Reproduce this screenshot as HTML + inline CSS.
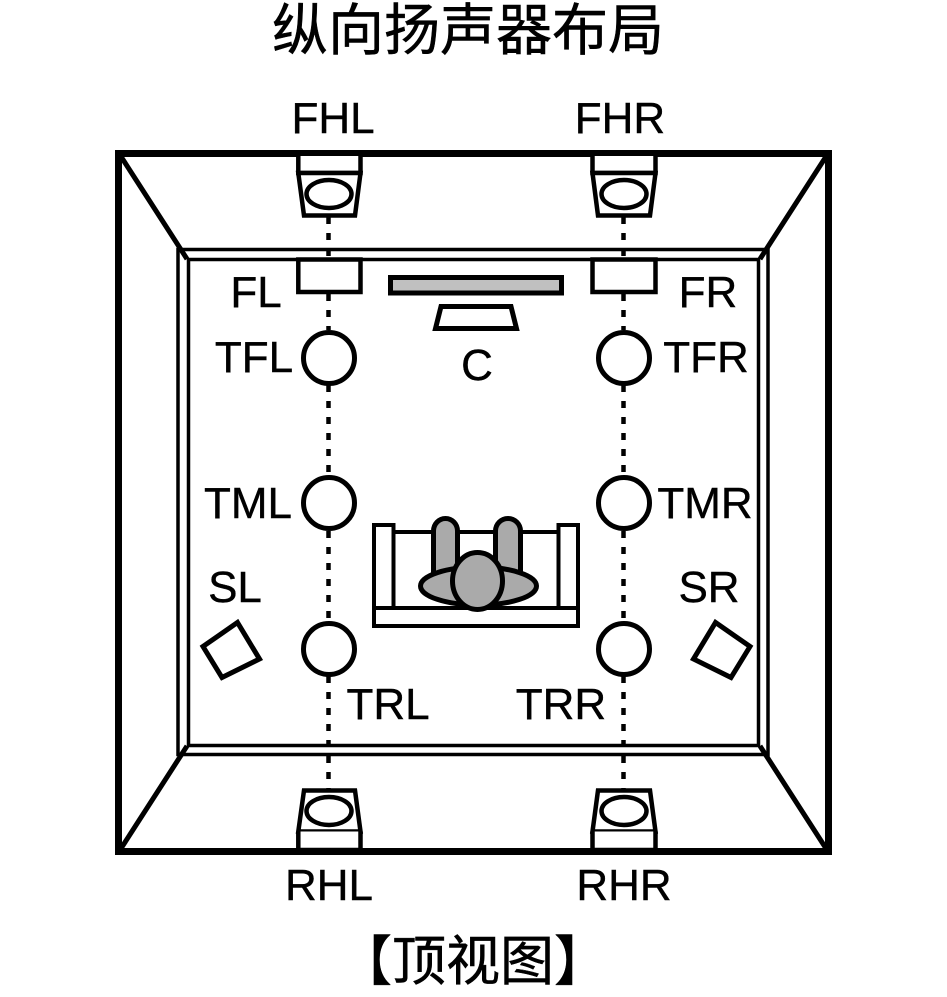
<!DOCTYPE html>
<html><head><meta charset="utf-8">
<style>
html,body{margin:0;padding:0;background:#fff;width:947px;height:997px;overflow:hidden}
svg{display:block}
text{font-family:"Liberation Sans","Noto Sans CJK SC",sans-serif;fill:#000}
.l{font-size:44px;stroke:#000;stroke-width:.4px}
.z{font-family:"Noto Sans CJK SC","WenQuanYi Zen Hei",sans-serif;stroke:#000;stroke-width:.5px}
</style></head><body>
<svg width="947" height="997" viewBox="0 0 947 997" xmlns="http://www.w3.org/2000/svg">
<g fill="none" stroke="#000">
<rect x="118.500" y="153.500" width="710" height="698" stroke-width="7"/>
<path d="M120 155L187 259M827 155L760 259M120 850L187 746M827 850L760 746" stroke-width="5"/>
<rect x="178" y="249.500" width="590" height="505" stroke-width="3.500"/>
<rect x="188.500" y="259.500" width="570" height="486" stroke-width="3.500"/>
<path d="M328.500 217V258M328.500 294V330M328.500 385V476M328.500 531V621M328.500 676V790M623.500 217V258M623.500 294V330M623.500 385V476M623.500 531V621M623.500 676V790" stroke-width="4.500" stroke-dasharray="7 9"/>
</g>
<g fill="#fff" stroke="#000" stroke-width="4.500">
<path d="M298.300 156V173H360.500V156"/><path d="M298.300 173H360.500L355 215.500H304Z"/><ellipse cx="329" cy="194" rx="22.500" ry="14"/>
<path d="M592.500 156V173H655.500V156"/><path d="M592.500 173H655.500L650 215.500H598Z"/><ellipse cx="624" cy="194" rx="22.500" ry="14"/>
<path d="M304 790.500H355L360.500 831.500H298.300Z"/><path d="M298.300 831.500V850H360.500V831.500"/><ellipse cx="329" cy="811" rx="22.500" ry="14"/>
<path d="M598 790.500H650L655.500 831.500H592.500Z"/><path d="M592.500 831.500V850H655.500V831.500"/><ellipse cx="624" cy="811" rx="22.500" ry="14"/>
<rect x="298.300" y="259.500" width="62.200" height="32.500"/>
<rect x="592.500" y="259.500" width="63" height="32.500"/>
<rect x="390.500" y="277.500" width="171" height="15.500" fill="#c0c0c0" stroke-width="5"/>
<path d="M441 306.500H511L516.500 328.500H435.500Z" stroke-width="5"/>
<g stroke-width="5">
<circle cx="329" cy="358" r="25.500"/><circle cx="624" cy="358" r="25.500"/>
<circle cx="329" cy="503" r="25.500"/><circle cx="624" cy="503" r="25.500"/>
<circle cx="329" cy="649" r="25.500"/><circle cx="624" cy="649" r="25.500"/>
<path d="M237.500 622.500L259.500 659L222 677.500L203 646.500Z"/>
<path d="M715.500 622.500L693.500 659L731 677.500L750 646.500Z"/>
</g>
<path d="M374 607V525H393.500V607M558.500 607V525H578V607M393.500 532H558.500" stroke-width="4"/>
<rect x="374" y="608" width="204" height="18" stroke-width="4"/>
<g stroke-width="5" fill="#aaa">
<path d="M433.500 585V531A12 12.500 0 0 1 457.500 531V585Z"/>
<path d="M495.500 585V531A12.500 12.500 0 0 1 520.500 531V585Z"/>
<ellipse cx="478.500" cy="586" rx="58" ry="19"/>
<ellipse cx="477.500" cy="581" rx="25" ry="28.500"/>
</g>
</g>
<text class="z" x="468" y="50" font-size="56" text-anchor="middle">纵向扬声器布局</text>
<text class="z" x="473" y="980" font-size="54" text-anchor="middle">【顶视图】</text>
<text class="l" x="333" y="133" text-anchor="middle">FHL</text>
<text class="l" x="620" y="133" text-anchor="middle">FHR</text>
<text class="l" x="256" y="307" text-anchor="middle">FL</text>
<text class="l" x="708" y="307" text-anchor="middle">FR</text>
<text class="l" x="254" y="372" text-anchor="middle">TFL</text>
<text class="l" x="706" y="372" text-anchor="middle">TFR</text>
<text class="l" x="477" y="380" text-anchor="middle">C</text>
<text class="l" x="248" y="518" text-anchor="middle">TML</text>
<text class="l" x="705" y="518" text-anchor="middle">TMR</text>
<text class="l" x="235" y="602" text-anchor="middle">SL</text>
<text class="l" x="709" y="602" text-anchor="middle">SR</text>
<text class="l" x="388" y="719" text-anchor="middle">TRL</text>
<text class="l" x="561" y="719" text-anchor="middle">TRR</text>
<text class="l" x="329" y="900" text-anchor="middle">RHL</text>
<text class="l" x="624" y="900" text-anchor="middle">RHR</text>
</svg>
</body></html>
